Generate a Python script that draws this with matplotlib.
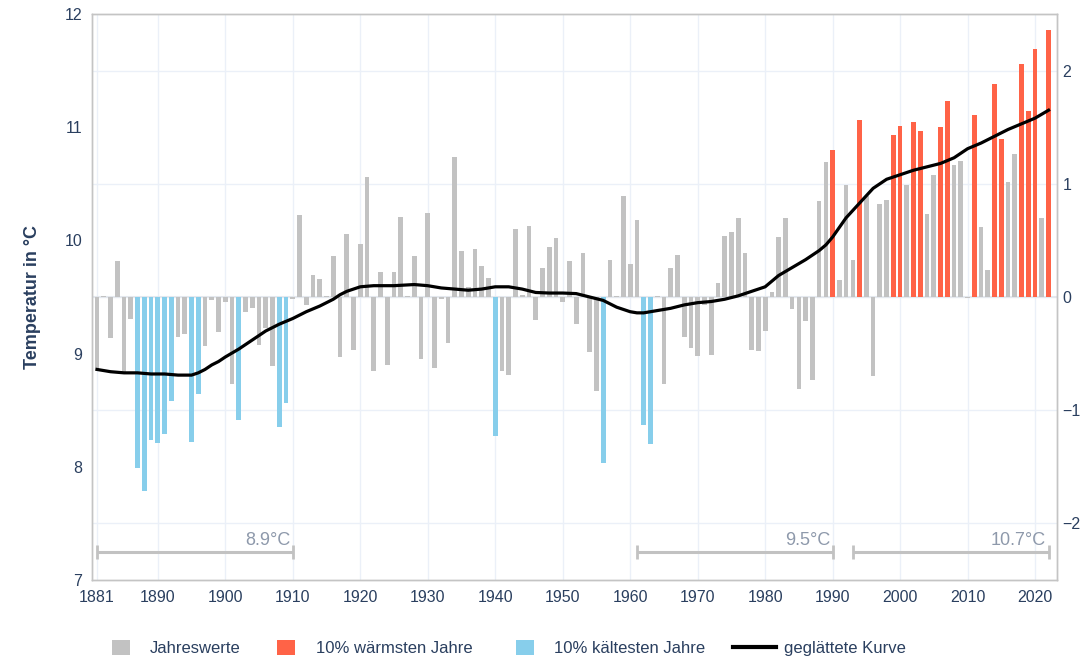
import matplotlib
matplotlib.use("Agg")
import matplotlib.pyplot as plt
from matplotlib.patches import Patch
from matplotlib.lines import Line2D
import numpy as np

# -------------------------------------------------------
# Daten: Jahresmitteltemperatur als Abweichung vom Mittel 1961-1990
# -------------------------------------------------------
BASIS = 9.5  # °C, Mittel 1961-1990

jahre = list(range(1881, 2023))
abweichung = [
    -0.65, 0.01, -0.36, 0.32, -0.67, -0.19, -1.51, -1.71, -1.26, -1.29,   # 1881-1890
    -1.21, -0.92, -0.35, -0.33, -1.28, -0.86, -0.43, -0.03, -0.31, -0.04,  # 1891-1900
    -0.77, -1.09, -0.13, -0.10, -0.42, -0.27, -0.61, -1.15, -0.94, -0.02,  # 1901-1910
    0.72, -0.07, 0.19, 0.16, 0.01, 0.36, -0.53, 0.56, -0.47, 0.47,         # 1911-1920
    1.06, -0.65, 0.22, -0.60, 0.22, 0.71, 0.01, 0.36, -0.55, 0.74,         # 1921-1930
    -0.63, -0.02, -0.41, 1.24, 0.41, 0.09, 0.42, 0.27, 0.17, -1.23,        # 1931-1940
    -0.65, -0.69, 0.60, 0.02, 0.63, -0.20, 0.26, 0.44, 0.52, -0.04,        # 1941-1950
    0.32, -0.24, 0.39, -0.49, -0.83, -1.47, 0.33, 0.01, 0.89, 0.29,        # 1951-1960
    0.68, -1.13, -1.30, 0.01, -0.77, 0.26, 0.37, -0.35, -0.45, -0.52,      # 1961-1970
    -0.07, -0.51, 0.12, 0.54, 0.57, 0.70, 0.39, -0.47, -0.48, -0.30,       # 1971-1980
    0.04, 0.53, 0.70, -0.11, -0.81, -0.21, -0.73, 0.85, 1.19, 1.30,        # 1981-1990
    0.15, 0.99, 0.33, 1.56, 0.89, -0.70, 0.82, 0.86, 1.43, 1.51,           # 1991-2000
    0.99, 1.55, 1.47, 0.73, 1.08, 1.50, 1.73, 1.17, 1.20, -0.01,           # 2001-2010
    1.61, 0.62, 0.24, 1.88, 1.40, 1.02, 1.26, 2.06, 1.64, 2.19,            # 2011-2020
    0.70, 2.36,                                                            # 2021-2022
]
assert len(abweichung) == len(jahre)

# geglättete Kurve (Abweichung)
kurve_jahre = [1881, 1883, 1885, 1887, 1889, 1891, 1893, 1895, 1896, 1897,
               1898, 1899, 1900, 1902, 1904, 1906, 1908, 1910, 1912, 1914,
               1916, 1917, 1918, 1920, 1922, 1925, 1928, 1930, 1932, 1934,
               1936, 1938, 1940, 1942, 1944, 1946, 1948, 1950, 1952, 1954,
               1956, 1958, 1960, 1961, 1962, 1964, 1966, 1968, 1970, 1972,
               1974, 1976, 1978, 1980, 1982, 1984, 1986, 1988, 1989, 1990,
               1992, 1994, 1996, 1998, 2000, 2002, 2004, 2006, 2008, 2010,
               2012, 2014, 2016, 2018, 2020, 2022]
kurve_werte = [-0.64, -0.66, -0.67, -0.67, -0.68, -0.68, -0.69, -0.69, -0.67, -0.64,
               -0.60, -0.57, -0.53, -0.46, -0.38, -0.30, -0.24, -0.19, -0.13, -0.08,
               -0.02, 0.02, 0.05, 0.09, 0.10, 0.10, 0.11, 0.10, 0.08, 0.07,
               0.06, 0.07, 0.09, 0.09, 0.07, 0.04, 0.035, 0.035, 0.03, 0.00,
               -0.03, -0.09, -0.13, -0.14, -0.14, -0.12, -0.10, -0.07, -0.05, -0.04,
               -0.02, 0.01, 0.05, 0.09, 0.19, 0.26, 0.33, 0.41, 0.46, 0.53,
               0.70, 0.83, 0.96, 1.04, 1.08, 1.12, 1.15, 1.18, 1.23, 1.31,
               1.36, 1.42, 1.48, 1.53, 1.58, 1.65]

# 30-jährige Vergleichsperioden
perioden = [(1881, 1910), (1961, 1990), (1993, 2022)]

x_ticks = [1881, 1890, 1900, 1910, 1920, 1930, 1940, 1950, 1960, 1970,
           1980, 1990, 2000, 2010, 2020]

# -------------------------------------------------------
# Stil
# -------------------------------------------------------
GRAU = '#c2c2c2'
WARM = '#ff6347'
KALT = '#87ceeb'
TEXT = '#2a3f5f'
GITTER = '#ebf0f8'
RAHMEN = '#c4c4c4'
PERIODE = '#8e99ab'

plt.rcParams['font.family'] = ['Liberation Sans', 'DejaVu Sans']

abw = np.array(abweichung)
jahre_arr = np.array(jahre)

# 10% wärmste / kälteste Jahre einfärben
n10 = int(np.ceil(len(abw) * 0.1))
rang = np.argsort(abw)
farben = np.array([GRAU] * len(abw), dtype=object)
farben[rang[:n10]] = KALT
farben[rang[-n10:]] = WARM

W, H = 1083, 661
fig = plt.figure(figsize=(W / 100, H / 100), dpi=100)
ax = fig.add_axes([92 / W, 1 - 580 / H, 965 / W, 566 / H])

ax.bar(jahre_arr, abw, bottom=BASIS, width=0.7, color=list(farben), zorder=2)
ax.plot(kurve_jahre, BASIS + np.array(kurve_werte), color='black', lw=2.3, zorder=3)
ax.axhline(BASIS, color='#e4e8ee', lw=1.5, zorder=1)

# Perioden-Mittelwerte
for a, b in perioden:
    mittel = BASIS + abw[(jahre_arr >= a) & (jahre_arr <= b)].mean()
    ax.plot([a, b], [7.25, 7.25], color=GRAU, lw=2.2, solid_capstyle='butt', zorder=2)
    ax.plot([a, b], [7.25, 7.25], ls='none', marker='|', ms=10, mew=2, color=GRAU, zorder=2)
    ax.text(b - 0.4, 7.275, f'{mittel:.1f}°C', ha='right', va='bottom',
            fontsize=13, color=PERIODE, zorder=4)

ax.set_xlim(1880.25, 2023.25)
ax.set_ylim(7, 12)
ax.set_xticks(x_ticks)
ax.set_yticks([7, 8, 9, 10, 11, 12])
ax.set_yticks(np.arange(7.5, 12, 1.0), minor=True)
ax.grid(which='major', axis='x', color=GITTER, lw=1, zorder=0)
ax.grid(which='minor', axis='y', color=GITTER, lw=1, zorder=0)
ax.set_axisbelow(True)
ax.tick_params(which='both', length=0, pad=7, labelsize=11.5, labelcolor=TEXT)

ax.set_ylabel('Temperatur in °C', fontsize=13, fontweight='bold', color=TEXT)
ax.yaxis.set_label_coords(-0.053, 0.5)

# rechte Achse: Abweichung
ax2 = ax.twinx()
ax2.set_ylim(7 - BASIS, 12 - BASIS)
ax2.set_yticks([-2, -1, 0, 1, 2])
ax2.tick_params(length=0, pad=4, labelsize=11.5, labelcolor=TEXT)

for a_ in (ax, ax2):
    for s in a_.spines.values():
        s.set_color(RAHMEN)
        s.set_linewidth(1)

# Legende: einzelne Einträge, links ausgerichtet
eintraege = [
    (Patch(facecolor=GRAU, edgecolor='none'), 'Jahreswerte', 112, 1.05, 1.2),
    (Patch(facecolor=WARM, edgecolor='none'), '10% wärmsten Jahre', 277, 1.05, 1.3),
    (Patch(facecolor=KALT, edgecolor='none'), '10% kältesten Jahre', 516, 1.05, 1.25),
    (Line2D([0], [0], color='black', lw=3), 'geglättete Kurve', 733, 2.6, 0.45),
]
for handle, text, x_px, hlen, hpad in eintraege:
    fig.legend([handle], [text], loc='center left', bbox_to_anchor=(x_px / W, 13 / H),
               frameon=False, fontsize=12, handlelength=hlen, handleheight=1.05,
               handletextpad=hpad, borderpad=0, borderaxespad=0, labelcolor=TEXT)

fig.savefig('out.png', dpi=100)
